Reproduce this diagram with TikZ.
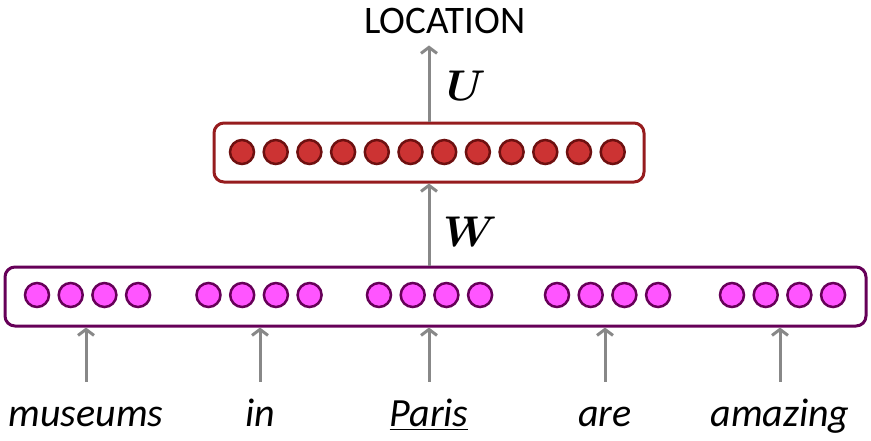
\documentclass[tikz,border=0pt]{standalone}
\usepackage{amsmath}
\usepackage{bm}
\usepackage{graphicx}
\usepackage{fontspec}
\setmainfont{Carlito}
\usepackage{xcolor}
\usepackage{tikz}
\usetikzlibrary{arrows.meta, positioning}

\definecolor{hidline}{RGB}{150,28,30}
\definecolor{hidfill}{RGB}{204,51,51}
\definecolor{hiddot}{RGB}{110,16,16}
\definecolor{inline}{RGB}{102,0,88}
\definecolor{infill}{RGB}{255,85,255}
\definecolor{arrowgray}{RGB}{136,136,136}

\newcommand{\bigsym}[1]{\scalebox{4.3}{$\bm{#1}$}}

\begin{document}
\begin{tikzpicture}[x=1pt,y=-1pt,
    every node/.style={font=\fontsize{39}{47}\selectfont, inner sep=0pt},
    layerbox/.style={draw, fill=white, rounded corners=10pt, line width=3pt},
    dot/.style={circle, draw, line width=2.5pt, minimum size=24pt},
    word/.style={anchor=base, text height=28pt, text depth=9pt, font=\fontsize{40}{48}\selectfont\itshape},
    weight/.style={font=\normalsize},
    flow/.style={-{Straight Barb[length=6pt,width=16pt]}, draw=arrowgray, line width=3pt}]
    \useasboundingbox (0,0) rectangle (871,440);

    % layers
    \node[layerbox, draw=hidline, minimum width=430pt, minimum height=59pt] (hidden) at (429,152.5) {};
    \node[layerbox, draw=inline, minimum width=861pt, minimum height=59pt] (inputs) at (435.5,296.5) {};

    % hidden units
    \foreach \i in {0,...,11}
        \node[dot, draw=hiddot, fill=hidfill] (h\i) at (242+33.7*\i,152) {};

    % word vectors
    \foreach \g [count=\k] in {87.5,259,429.5,607.5,782.5}
        \foreach \j in {0,...,3}
            \node[dot, draw=inline, fill=infill] (x\k\j) at (\g-50.5+33.7*\j,295) {};

    % words
    \node[word] (w1) at (86,426) {museums};
    \node[word] (w2) at (260,426) {in};
    \node[word] (w3) at (429,426) {\underline{Paris}};
    \node[word] (w4) at (605,426) {are};
    \node[word] (w5) at (780,426) {amazing};

    \node[anchor=base] (label) at (445,33) {LOCATION};

    \foreach \k in {1,...,5}
        \draw[flow, shorten <=16pt] (w\k.north) -- (w\k.north |- inputs.south);

    \draw[flow] (hidden.south |- inputs.north) -- (hidden.south);
    \node[weight] (wlab) at (470,232) {\bigsym{W}};

    \draw[flow, shorten >=12pt] (hidden.north) -- (hidden.north |- label.south);
    \node[weight] (ulab) at (466,86) {\bigsym{U}};
\end{tikzpicture}
\end{document}
